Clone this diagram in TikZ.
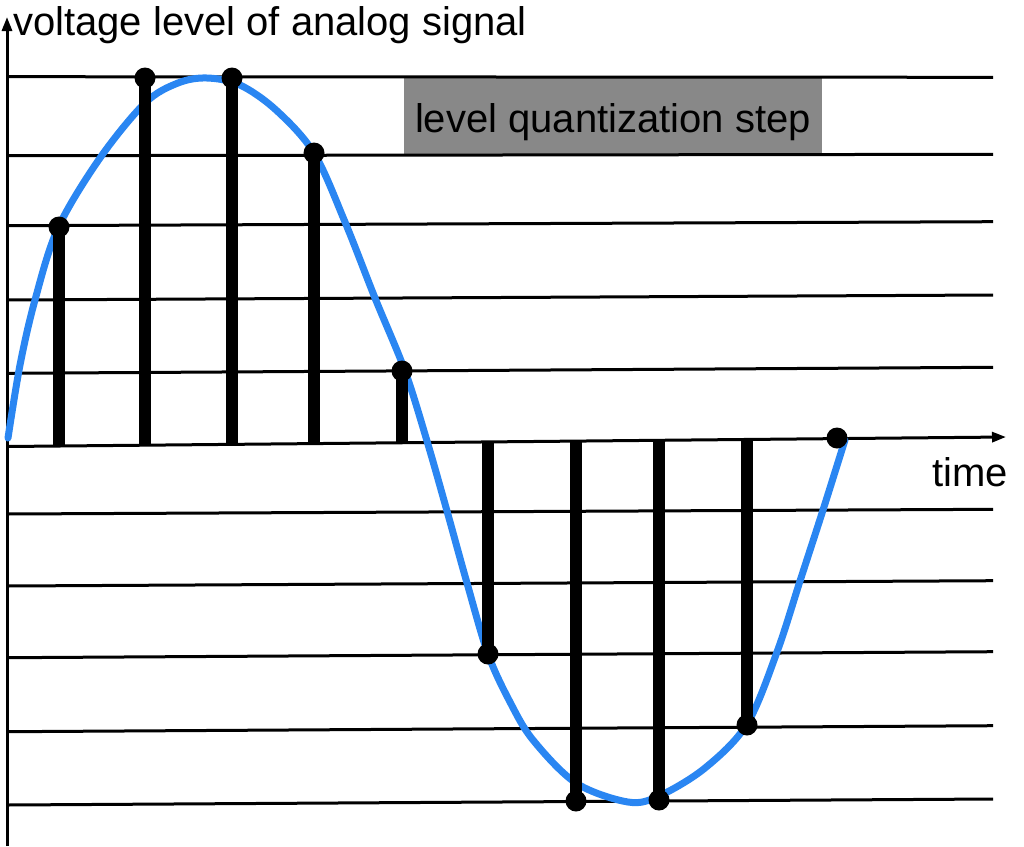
\documentclass[tikz,border=0pt]{standalone}
\usepackage{fontspec}
\setmainfont{Liberation Sans}
\usetikzlibrary{arrows.meta}
\definecolor{wave}{HTML}{2A86F2}
\definecolor{boxgray}{HTML}{888888}
\begin{document}
\begin{tikzpicture}[x=1pt,y=-1pt,
  gridline/.style={line width=3pt},
  axisline/.style={line width=3pt,-{Triangle[length=14pt,width=10pt]}},
  stem/.style={line width=11.5pt},
  dot/.style={circle,fill=black,inner sep=0pt,minimum size=21pt},
  lbl/.style={font=\fontsize{40}{46}\selectfont,inner sep=0pt,anchor=base west},
  wavecurve/.style={line width=7pt,wave,line cap=round}]
\useasboundingbox (0,0) rectangle (1024,846);

% gray box with label
\node[fill=boxgray,inner sep=0pt,minimum width=418pt,text height=54pt,text depth=22pt,
      font=\fontsize{40}{46}\selectfont] (qbox) at (613,116) {level quantization step};

% quantization level lines
\foreach \yl/\yr [count=\i] in {76.7/77.3,155.7/154.3,225.7/221.7,300/295,373.3/367.3,
  514/509.3,586/580.7,657.7/651.7,731.7/725.7,805/799}{
  \coordinate (L\i l) at (7,\yl);
  \coordinate (L\i r) at (993,\yr);
  \draw[gridline] (L\i l) -- (L\i r);
}

% axes
\coordinate (origin) at (7,446.5);
\coordinate (xend) at (1006,437);
\coordinate (ybot) at (7,846);
\coordinate (yend) at (7,17);
\draw[axisline] (origin) -- (xend);
\draw[axisline] (ybot) -- (yend);

% analog signal
\draw[wavecurve] plot[smooth,tension=0.55] coordinates {
 (8,438) (20,365) (35,300) (58,228) (100,158) (145,103) (178,83) (207,78)
 (240,85) (276,110) (314,153) (345,222) (375,298) (405,371) (427,441) (447,511)
 (467,583) (488,654) (510,702) (533,740) (576,783) (628,802) (659,796)
 (705,768) (747,724) (777,652) (800,581) (823,510) (845,440)};

% samples
\foreach \x/\yb/\yd [count=\i] in {59/446.0/227,145/445.2/78,232/444.4/78,314/443.6/153,
  402/442.7/371,488/441.9/654,576/441.1/801,659/440.3/800,747/439.5/725}{
  \coordinate (b\i) at (\x,\yb);
  \node[dot] (s\i) at (\x,\yd) {};
  \draw[stem] (b\i) -- (s\i.center);
}
\node[dot] (s10) at (837,438) {};

% labels
\node[lbl] (ylabel) at (13,35) {voltage level of analog signal};
\node[lbl] (xlabel) at (932,486) {time};
\end{tikzpicture}
\end{document}
